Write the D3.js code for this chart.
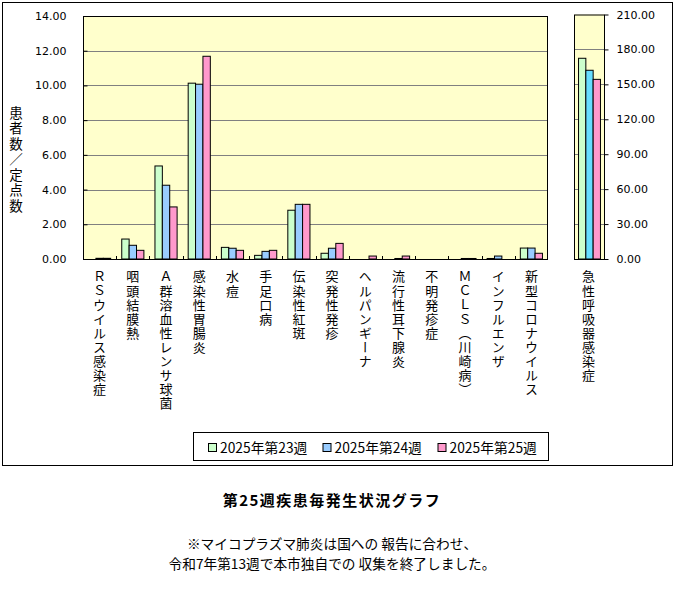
<!DOCTYPE html>
<html><head><meta charset="utf-8">
<script src="https://cdn.jsdelivr.net/npm/d3@7"></script>
<style>
body{margin:0;background:#fff;}
svg{display:block;}
.vt{writing-mode:vertical-rl;text-orientation:upright;}
</style></head>
<body><svg id="c" width="677" height="607"></svg>
<script>
const categories = ["ＲＳウイルス感染症","咽頭結膜熱","Ａ群溶血性レンサ球菌","感染性胃腸炎","水痘","手足口病","伝染性紅斑","突発性発疹","ヘルパンギーナ","流行性耳下腺炎","不明発疹症","ＭＣＬＳ（川崎病）","インフルエンザ","新型コロナウイルス"];
const seriesNames = ["2025年第23週","2025年第24週","2025年第25週"];
const week23 = [0, 1.15, 5.36, 10.13, 0.67, 0.21, 2.81, 0.33, 0, 0, 0, 0, 0.03, 0.63];
const week24 = [0.04, 0.79, 4.25, 10.07, 0.62, 0.44, 3.15, 0.62, 0, 0.03, 0, 0.03, 0.17, 0.63];
const week25 = [0.04, 0.50, 3.00, 11.68, 0.50, 0.50, 3.15, 0.90, 0.17, 0.17, 0, 0.03, 0, 0.33];
const respCategory = ["急性呼吸器感染症"];
const resp23 = [172.4];
const resp24 = [162.1];
const resp25 = [154.3];
const leftTicks = [0,2,4,6,8,10,12,14];
const rightTicks = [0,30,60,90,120,150,180,210];
const title = "第25週疾患毎発生状況グラフ";
const noteLines = ["※マイコプラズマ肺炎は国への 報告に合わせ、","令和7年第13週で本市独自での 収集を終了しました。"];

const colors = ["#CCFFCC","#99CCFF","#FF99CC"];
const colorsR = ["#CCFFCC","#66DDFF","#FF99CC"];
const jp = "'Noto Sans CJK JP', sans-serif";
const num = "'DejaVu Sans', sans-serif";

const svg = d3.select("#c");
svg.append("rect").attr("x",2.5).attr("y",2.5).attr("width",670).attr("height",463)
  .attr("fill","#fff").attr("stroke","#000");

// main plot
const L=83, R=548, T=16, B=259;
const y = d3.scaleLinear().domain([0,14]).range([B,T]);
const x0 = d3.scaleBand().domain(categories).range([L,R]).padding(0);
const x1 = d3.scaleBand().domain(seriesNames).range([0,x0.bandwidth()]).paddingInner(0).paddingOuter(0.75);
const g = svg.append("g");
g.append("rect").attr("x",L).attr("y",T).attr("width",R-L).attr("height",B-T).attr("fill","#FFFFCC");
g.selectAll(".grid").data(leftTicks.filter(t=>t>0 && t<14)).join("line")
  .attr("x1",L).attr("x2",R).attr("y1",d=>Math.round(y(d))+0.5).attr("y2",d=>Math.round(y(d))+0.5)
  .attr("stroke","#808080");
const mainData = [week23,week24,week25];
categories.forEach((c,i)=>{
  mainData.forEach((arr,s)=>{
    const v = arr[i];
    if(v>0){
      g.append("rect").attr("x",x0(c)+x1(seriesNames[s])).attr("width",x1.bandwidth())
        .attr("y",y(v)).attr("height",Math.max(0,y(0)-y(v)))
        .attr("fill",colors[s]).attr("stroke","#000").attr("stroke-width",1);
    }
  });
});
g.append("rect").attr("x",L+0.5).attr("y",T+0.5).attr("width",R-L-1).attr("height",B-T)
  .attr("fill","none").attr("stroke","#000");
// left axis
const ay = d3.axisLeft(y).tickValues(leftTicks).tickFormat(d3.format(".2f")).tickSize(-4).tickPadding(17);
const gy = svg.append("g").attr("transform",`translate(${L+0.5},0)`).call(ay);
gy.select(".domain").remove();
gy.selectAll("text").attr("font-family",num).attr("font-size",11).attr("fill","#000");
gy.selectAll("line").attr("stroke","#000");
// category ticks
const bounds = categories.map(c=>x0(c)).slice(1);
svg.selectAll(".ct").data(bounds).join("line").attr("x1",d=>Math.round(d)+0.5).attr("x2",d=>Math.round(d)+0.5)
  .attr("y1",B-3).attr("y2",B).attr("stroke","#000");
// category labels
svg.selectAll(".cl").data(categories).join("text").attr("class","vt")
  .attr("x",d=>x0(d)+x0.bandwidth()/2).attr("y",270)
  .attr("font-family",jp).attr("font-size",13).attr("letter-spacing",1.1)
  .text(d=>d);
// y label
svg.append("text").attr("class","vt").attr("x",16).attr("y",106)
  .attr("font-family",jp).attr("font-size",13.5).attr("letter-spacing",2).text("患者数／定点数");

// right plot
const RL=574, RR=605, RT=14.5;
const yr = d3.scaleLinear().domain([0,210]).range([B,RT]);
const xr0 = d3.scaleBand().domain(respCategory).range([RL,RR]).padding(0);
const xr1 = d3.scaleBand().domain(seriesNames).range([0,xr0.bandwidth()]).paddingInner(0).paddingOuter(0.62);
svg.append("rect").attr("x",RL).attr("y",RT).attr("width",RR-RL).attr("height",B-RT).attr("fill","#FFFFCC");
svg.selectAll(".rgrid").data(rightTicks.filter(t=>t>0&&t<210)).join("line")
  .attr("x1",RL).attr("x2",RR).attr("y1",d=>Math.round(yr(d))+0.5).attr("y2",d=>Math.round(yr(d))+0.5)
  .attr("stroke","#808080");
const respData=[resp23,resp24,resp25];
respCategory.forEach((c,i)=>{
  respData.forEach((arr,s)=>{
    const v=arr[i];
    svg.append("rect").attr("x",xr0(c)+xr1(seriesNames[s])).attr("width",xr1.bandwidth())
      .attr("y",yr(v)).attr("height",yr(0)-yr(v))
      .attr("fill",colorsR[s]).attr("stroke","#000");
  });
});
svg.append("rect").attr("x",RL+0.5).attr("y",RT+0.5).attr("width",RR-RL-1).attr("height",B-RT)
  .attr("fill","none").attr("stroke","#000");
const ayr = d3.axisRight(yr).tickValues(rightTicks).tickFormat(d3.format(".2f")).tickSize(4).tickPadding(8);
const gyr = svg.append("g").attr("transform",`translate(${RR-0.5},0)`).call(ayr);
gyr.select(".domain").remove();
gyr.selectAll("text").attr("font-family",num).attr("font-size",11).attr("fill","#000");
gyr.selectAll("line").attr("stroke","#000");
svg.selectAll(".rl").data(respCategory).join("text").attr("class","vt")
  .attr("x",d=>xr0(d)+xr0.bandwidth()/2-1).attr("y",270)
  .attr("font-family",jp).attr("font-size",13).attr("letter-spacing",1.1).text(d=>d);

// legend
svg.append("rect").attr("x",193.5).attr("y",432.5).attr("width",355).attr("height",28)
  .attr("fill","#fff").attr("stroke","#000");
const lx = [208.5,323,438];
seriesNames.forEach((n,i)=>{
  svg.append("rect").attr("x",lx[i]).attr("y",443.5).attr("width",8).attr("height",8)
    .attr("fill",colors[i]).attr("stroke","#000");
  svg.append("text").attr("x",lx[i]+11.5).attr("y",453).attr("font-family",jp).attr("font-size",13.8).text(n);
});

// title and notes
svg.append("text").attr("x",332).attr("y",506).attr("text-anchor","middle").attr("font-family",jp)
  .attr("font-weight","bold").attr("font-size",15).attr("letter-spacing",1.5).text(title);
svg.selectAll(".note").data(noteLines).join("text").attr("x",332).attr("y",(d,i)=>549+i*20)
  .attr("text-anchor","middle").attr("font-family",jp).attr("font-size",13.7).text(d=>d);
</script></body></html>
